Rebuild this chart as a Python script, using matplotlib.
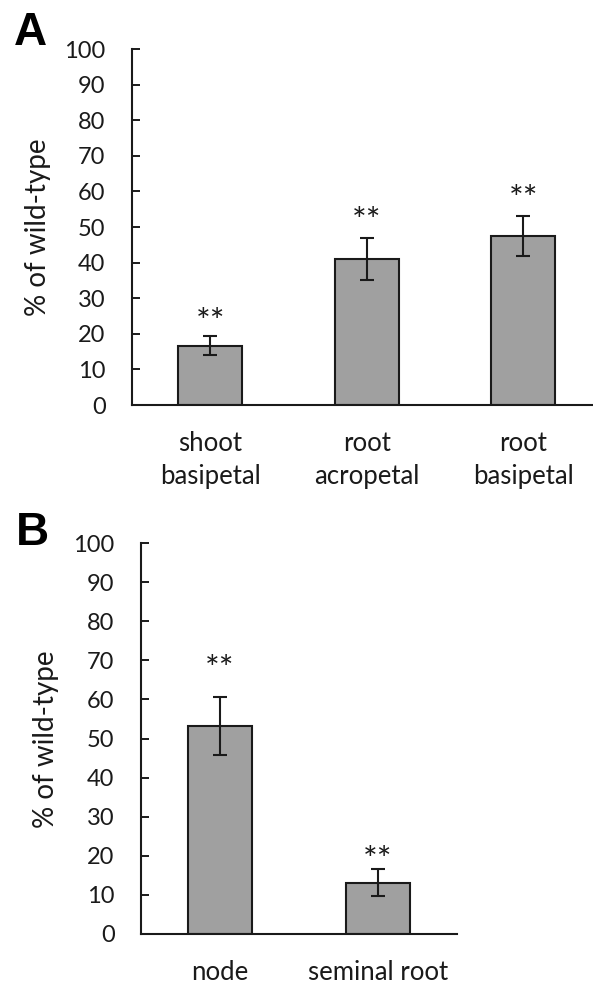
import matplotlib.pyplot as plt
import numpy as np

plt.rcParams['font.family'] = ['Lato', 'DejaVu Sans']

# panel A
a_labels = ['shoot\nbasipetal', 'root\nacropetal', 'root\nbasipetal']
a_values = [16.7, 41.0, 47.5]
a_errors = [2.6, 5.8, 5.6]
a_star_y = [25.8, 54.2, 60.4]

# panel B
b_labels = ['node', 'seminal root']
b_values = [53.2, 13.1]
b_errors = [7.4, 3.5]
b_star_y = [70.1, 21.2]

yticks = np.arange(0, 101, 10)
BAR_COLOR = '#a0a0a0'
INK = '#1a1a1a'
FS = 17


def draw_panel(ax, labels, values, errors, star_y, xmax, width):
    x = np.arange(len(labels))
    ax.bar(x, values, width=width, color=BAR_COLOR, edgecolor=INK, linewidth=1.5, zorder=2)
    ax.errorbar(x, values, yerr=errors, fmt='none', ecolor=INK, elinewidth=1.5,
                capsize=4.8, capthick=1.5, zorder=3)
    # stars: glyph sits high in its box, so shift the text down a little
    for xi, sy in zip(x, star_y):
        ax.annotate('**', (xi, sy), xytext=(0, -7), textcoords='offset points',
                    ha='center', va='center', fontsize=25, color=INK)
    ax.set_xlim(-0.5, xmax)
    ax.set_ylim(0, 100)
    ax.set_yticks(yticks)
    ax.set_xticks(x)
    ax.set_xticklabels(labels, fontsize=18.5, color=INK, linespacing=1.4)
    ax.tick_params(axis='x', length=0, pad=19)
    ax.tick_params(axis='y', direction='in', length=6, width=1.4, color=INK,
                   labelsize=FS, labelcolor=INK, pad=19)
    for s in ['top', 'right']:
        ax.spines[s].set_visible(False)
    for s in ['left', 'bottom']:
        ax.spines[s].set_linewidth(1.5)
        ax.spines[s].set_color(INK)


fig = plt.figure(figsize=(5.93, 9.84), dpi=100)

ax_a = fig.add_axes([132 / 593, 579 / 984, 461 / 593, 356 / 984])
draw_panel(ax_a, a_labels, a_values, a_errors, a_star_y, -0.5 + 461 / 156.5, 0.41)

ax_b = fig.add_axes([141 / 593, 50 / 984, 316 / 593, 391 / 984])
draw_panel(ax_b, b_labels, b_values, b_errors, b_star_y, 1.5, 0.405)

fig.text(38 / 593, 1 - 227 / 984, '% of wild-type', rotation=90, ha='center', va='center',
         fontsize=20, color=INK)
fig.text(46 / 593, 1 - 739 / 984, '% of wild-type', rotation=90, ha='center', va='center',
         fontsize=20, color=INK)

fig.text(14 / 593, 1 - 45 / 984, 'A', fontsize=33, fontweight='bold',
         family='Liberation Sans', color='black', ha='left', va='baseline')
fig.text(16 / 593, 1 - 545 / 984, 'B', fontsize=33, fontweight='bold',
         family='Liberation Sans', color='black', ha='left', va='baseline')

fig.savefig('out.png', dpi=100)
